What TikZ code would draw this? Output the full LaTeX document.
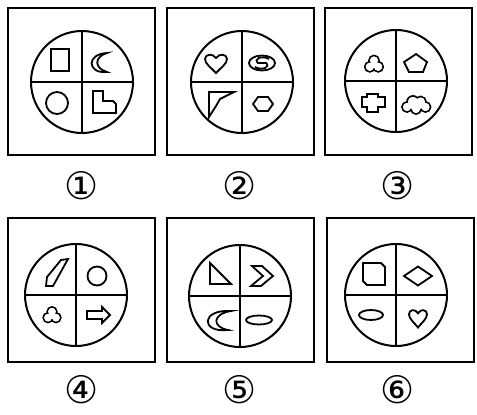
\documentclass[tikz,border=0pt]{standalone}
\usepackage{fontspec}
\usepackage{tikz}
\newfontfamily\labelfont{DejaVu Sans}

\begin{document}
\begin{tikzpicture}[
    x=1pt, y=-1pt,
    panel/.style={rectangle, draw, line width=2pt, minimum width=147pt, minimum height=147pt, inner sep=0pt},
    disc/.style={circle, draw, line width=2pt, minimum size=102pt, inner sep=0pt},
    shp/.style={line width=1.8pt},
    num/.style={font=\labelfont\fontsize{38}{40}\selectfont, inner sep=0pt},
    heart/.pic={\draw[shp] (0,10) .. controls (-4,5) and (-10,1) .. (-10,-4) .. controls (-10,-9) and (-3,-10) .. (0,-5) .. controls (3,-10) and (10,-9) .. (10,-4) .. controls (10,1) and (4,5) .. (0,10) -- cycle;},
    trefoil/.pic={
        \draw[shp] (0,-3.5) circle (5) (-4.2,2.8) circle (5) (4.2,2.8) circle (5);
        \fill[white] (0,-3.5) circle (4.1) (-4.2,2.8) circle (4.1) (4.2,2.8) circle (4.1) (0,0.7) circle (3.5);},
    cloud/.pic={
        \draw[shp] (-9,2) circle (5) (-3,-3) circle (6) (4.5,-3) circle (5.5) (9.5,2) circle (5) (0,4) circle (5);
        \fill[white] (-9,2) circle (4.1) (-3,-3) circle (5.1) (4.5,-3) circle (4.6) (9.5,2) circle (4.1) (0,4) circle (4.1) (0,0.5) ellipse (8 and 4);}
]
    \useasboundingbox (0,0) rectangle (477,415);

    % Panels, discs and labels
    \foreach \i/\bx/\by/\bh/\cx/\cy/\lx/\ly/\t in {
        1/81.5/81.5/147/82/82/82/186/①,
        2/240.5/81.5/147/242/82/240/186/②,
        3/398.5/81.5/147/396/81/398/186/③,
        4/81.5/290/144/76/295/82/390/④,
        5/240.5/290/144/240/296/240/390/⑤,
        6/400/290/144/396/295/398/390/⑥} {
        \node[panel, minimum height=\bh pt] (box\i) at (\bx,\by) {};
        \node[disc] (c\i) at (\cx,\cy) {};
        \draw[line width=2pt] (c\i.north) -- (c\i.south) (c\i.west) -- (c\i.east);
        \node[num] (lab\i) at (\lx,\ly) {\t};
    }

    % Panel 1
    \draw[shp] (51,49) rectangle (69,71);
    \draw[shp] (107,53) .. controls (86,54) and (87,74) .. (107,72) .. controls (94,68) and (94,57) .. cycle;
    \draw[shp] (57,103) circle (11);
    \draw[shp] (93,91) -- (103,91) -- (103,101) -- (113,101) -- (116,104) -- (116,113) -- (93,113) -- cycle;

    % Panel 2
    \pic[xscale=1.1] at (216,63) {heart};
    \draw[shp] (262,63) ellipse (13 and 7.5);
    \draw[shp] (269,59) .. controls (262,55) and (253,59) .. (258,63) -- (266,63) .. controls (271,67) and (262,71) .. (255,67);
    \draw[shp] (209,92) -- (234,92) -- (220,99) -- (216,106) -- (209,117) -- cycle;
    \draw[shp] (253,104) -- (258,97) -- (268,97) -- (273,104) -- (268,111) -- (258,111) -- cycle;

    % Panel 3
    \pic at (374,64) {trefoil};
    \draw[shp] (416,54) -- (427,62) -- (423,72) -- (409,72) -- (404,62) -- cycle;
    \draw[shp] (367,94) -- (378,94) -- (378,97) -- (385,97) -- (385,107) -- (378,107) -- (378,112) -- (367,112) -- (367,107) -- (362,107) -- (362,97) -- (367,97) -- cycle;
    \pic at (416,105) {cloud};

    % Panel 4
    \draw[shp] (46,286) -- (47,277) -- (61,260) -- (68,259) -- (53,286) -- cycle;
    \draw[shp] (97,276) circle (9.5);
    \pic[scale=0.95] at (52,315) {trefoil};
    \draw[shp] (87,311) -- (102,311) -- (102,307) -- (110,315) -- (102,323) -- (102,319) -- (87,319) -- cycle;

    % Panel 5
    \draw[shp] (210,263) -- (210,284) -- (231,284) -- cycle;
    \draw[shp] (252,266) -- (262,266) -- (273,276) -- (261,286) -- (251,286) -- (263,276) -- cycle;
    \draw[shp] (231,311) .. controls (201,309) and (200,333) .. (228,330) .. controls (212,327) and (212,314) .. cycle;
    \draw[shp] (259,320) ellipse (13 and 4.5);

    % Panel 6
    \draw[shp] (363,263) -- (381,263) -- (385,267) -- (385,285) -- (367,285) -- (363,281) -- cycle;
    \draw[shp] (404,276) -- (418,266.5) -- (432,276) -- (418,285.5) -- cycle;
    \draw[shp] (371,315) ellipse (12 and 5);
    \pic[xscale=0.9, yscale=0.95] at (418,318) {heart};
\end{tikzpicture}
\end{document}
